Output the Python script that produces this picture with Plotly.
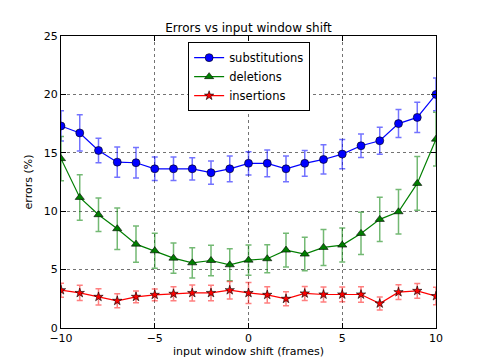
import plotly.graph_objects as go

shift = list(range(-10, 11))

subs = [17.3, 16.7, 15.2, 14.2, 14.15, 13.63, 13.63, 13.63, 13.3, 13.63, 14.1,
        14.1, 13.63, 14.1, 14.43, 14.89, 15.6, 16.03, 17.5, 18.03, 20.0]
subs_err = [1.3, 1.55, 1.05, 1.3, 1.3, 1.0, 1.0, 0.95, 1.0, 1.1, 1.0,
            1.15, 1.1, 1.1, 1.25, 1.25, 1.0, 1.15, 1.2, 1.3, 1.4]

dels = [14.5, 11.18, 9.7, 8.5, 7.18, 6.61, 5.98, 5.58, 5.78, 5.41, 5.81,
        5.93, 6.67, 6.33, 6.9, 7.1, 8.1, 9.3, 9.95, 12.38, 16.17]
dels_err = [1.9, 1.95, 1.43, 1.77, 1.55, 1.5, 1.3, 1.3, 1.3, 1.37, 1.3,
            1.2, 1.45, 1.43, 1.54, 1.46, 1.8, 1.9, 1.9, 2.3, 2.3]

ins = [3.24, 3.0, 2.67, 2.33, 2.67, 2.84, 2.93, 3.0, 3.0, 3.24, 3.0,
       2.84, 2.5, 2.96, 2.87, 2.87, 2.87, 2.1, 3.07, 3.18, 2.73]
ins_err = [0.6, 0.65, 0.7, 0.6, 0.5, 0.5, 0.6, 0.68, 0.67, 0.75, 0.9,
           0.7, 0.6, 0.6, 0.65, 0.63, 0.67, 0.55, 0.63, 0.63, 0.75]

x_ticks = [-10, -5, 0, 5, 10]
y_ticks = [0, 5, 10, 15, 20, 25]

FONT = "DejaVu Sans"

series = [
    ("substitutions", subs, subs_err, "#0000ff", "rgba(0,0,255,0.55)", "circle", 8),
    ("deletions", dels, dels_err, "#007f00", "rgba(0,127,0,0.55)", "triangle-up", 8),
    ("insertions", ins, ins_err, "#ff0000", "rgba(255,0,0,0.5)", "star", 7),
]

fig = go.Figure()
for name, vals, errs, col, ecol, sym, sz in series:
    fig.add_trace(go.Scatter(
        x=shift, y=vals, name=name, mode="lines+markers",
        line=dict(color=col, width=1.2),
        marker=dict(symbol=sym, size=sz, color=col,
                    line=dict(color="black", width=0.6)),
        error_y=dict(type="data", array=errs, visible=True,
                     color=ecol, thickness=1.5, width=3),
    ))

axis_common = dict(
    showline=True, linecolor="black", linewidth=1, mirror="allticks",
    ticks="inside", ticklen=5, tickcolor="black",
    showgrid=True, gridcolor="rgba(0,0,0,0.55)", griddash="dot", gridwidth=0.8,
    zeroline=False,
    tickfont=dict(family=FONT, size=11, color="black"),
)

fig.update_layout(
    width=485, height=364,
    margin=dict(l=53, r=57, t=28, b=44),
    plot_bgcolor="white", paper_bgcolor="white",
    font=dict(family=FONT, color="black"),
    title=dict(text="Errors vs input window shift", x=0.5, xref="paper",
               xanchor="center", y=1, yref="paper", yanchor="bottom",
               pad=dict(b=4), font=dict(family=FONT, size=12, color="black")),
    xaxis=dict(range=[-10, 10], tickvals=x_ticks,
               title=dict(text="input window shift (frames)", standoff=2,
                          font=dict(family=FONT, size=11)),
               **axis_common),
    yaxis=dict(range=[0, 25], tickvals=y_ticks,
               title=dict(text="errors (%)", standoff=8,
                          font=dict(family=FONT, size=11)),
               **axis_common),
    legend=dict(x=0.339, y=0.979, xanchor="left", yanchor="top",
                bordercolor="black", borderwidth=1, bgcolor="white",
                font=dict(family=FONT, size=11.5), tracegroupgap=0,
                itemwidth=30),
    showlegend=True,
)

fig.write_html("out.html")
